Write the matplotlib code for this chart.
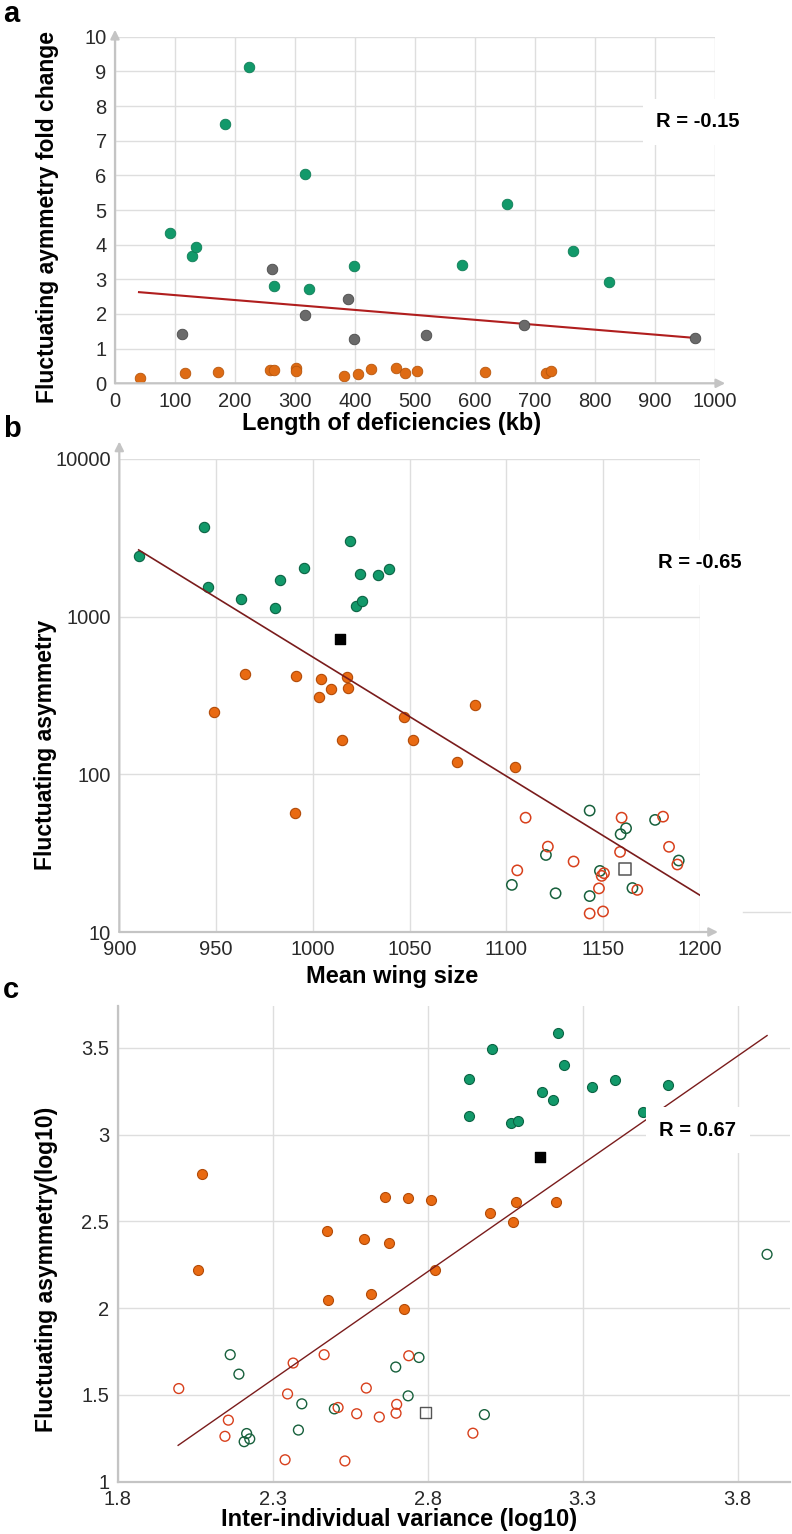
import numpy as np
import matplotlib
matplotlib.use('Agg')
import matplotlib.pyplot as plt
from matplotlib.lines import Line2D

plt.rcParams['font.family'] = ['Liberation Sans', 'DejaVu Sans']

# ---- panel a: deficiency length vs FA fold change
a_green_x = [92, 129, 135, 183, 224, 265, 317, 324, 398, 579, 653, 763, 824]
a_green_y = [4.33, 3.67, 3.92, 7.47, 9.14, 2.81, 6.04, 2.71, 3.38, 3.40, 5.18, 3.81, 2.92]
a_gray_x = [112, 262, 317, 388, 398, 518, 681, 966]
a_gray_y = [1.43, 3.29, 1.96, 2.44, 1.27, 1.39, 1.68, 1.31]
a_orange_x = [42, 116, 172, 258, 265, 301, 302, 381, 405, 426, 469, 484, 504, 617, 718, 726]
a_orange_y = [0.14, 0.29, 0.34, 0.39, 0.37, 0.43, 0.36, 0.22, 0.27, 0.42, 0.43, 0.31, 0.36, 0.33, 0.29, 0.36]
a_fit_x = [40, 966]
a_fit_y = [2.63, 1.31]

# ---- panel b: mean wing size vs FA (log)
b_green_x = [910, 943.7, 946, 962.8, 980.4, 983.1, 995.2, 1019, 1024.5, 1022.5, 1025.4, 1033.5, 1039.5]
b_green_y = [2440, 3720, 1540, 1300, 1130, 1710, 2030, 3030, 1870, 1170, 1260, 1840, 2000]
b_orange_x = [949, 964.9, 990.9, 991.3, 1003.3, 1004.2, 1009.4, 1014.9, 1017.6, 1018, 1046.9, 1051.9, 1074.3, 1083.6, 1104.3]
b_orange_y = [248, 431, 57, 423, 308, 401, 349, 164, 415, 353, 232, 164, 119, 277, 111]
b_hgreen_x = [1102.8, 1120.4, 1125.4, 1143, 1143, 1148.3, 1159, 1161.8, 1165.1, 1176.8, 1189]
b_hgreen_y = [19.9, 30.8, 17.6, 58.9, 16.9, 24.4, 41.7, 45.5, 19.0, 51.4, 28.4]
b_hred_x = [1105.6, 1109.9, 1121.4, 1134.7, 1143, 1147.8, 1149.2, 1149.9, 1150.4, 1158.7, 1159.5, 1167.6, 1180.9, 1184, 1188.3]
b_hred_y = [24.6, 53.1, 34.8, 28.0, 13.1, 18.9, 22.7, 13.5, 23.6, 32.2, 53.1, 18.5, 53.9, 34.7, 26.8]
b_black = (1013.8, 723)
b_hsquare = (1161.4, 25.1)
b_fit_x = [910, 1200]
b_fit_y = [2650, 17.1]

# ---- panel c: inter-individual variance vs FA (log10)
c_green_x = [2.932, 2.933, 3.008, 3.068, 3.090, 3.168, 3.205, 3.220, 3.239, 3.331, 3.403, 3.495, 3.577]
c_green_y = [3.317, 3.109, 3.491, 3.066, 3.076, 3.247, 3.198, 3.582, 3.403, 3.275, 3.314, 3.130, 3.283]
c_orange_x = [2.058, 2.073, 2.474, 2.479, 2.596, 2.616, 2.663, 2.675, 2.725, 2.737, 2.811, 2.824, 3.001, 3.074, 3.086, 3.213]
c_orange_y = [2.217, 2.770, 2.445, 2.048, 2.399, 2.082, 2.640, 2.373, 1.994, 2.635, 2.625, 2.222, 2.549, 2.495, 2.614, 2.614]
c_hgreen_x = [2.163, 2.191, 2.208, 2.216, 2.226, 2.383, 2.394, 2.499, 2.697, 2.737, 2.772, 2.983, 3.895]
c_hgreen_y = [1.732, 1.620, 1.231, 1.278, 1.247, 1.298, 1.449, 1.420, 1.661, 1.495, 1.716, 1.387, 2.310]
c_hred_x = [1.997, 2.146, 2.157, 2.340, 2.348, 2.366, 2.466, 2.511, 2.533, 2.571, 2.602, 2.644, 2.698, 2.700, 2.739, 2.946]
c_hred_y = [1.537, 1.262, 1.355, 1.127, 1.506, 1.684, 1.732, 1.428, 1.120, 1.392, 1.540, 1.373, 1.395, 1.446, 1.726, 1.280]
c_black = (3.163, 2.868)
c_hsquare = (2.792, 1.400)
c_fit_x = [1.995, 3.895]
c_fit_y = [1.21, 3.57]

GREEN = '#12996a'
GREEN_E = '#0b6444'
ORANGE = '#e96a12'
ORANGE_E = '#b24b08'
GRAY = '#6a6a6a'
HRED = '#d8401c'
HGREEN = '#17603c'
GRID = '#dedede'
AXC = '#c4c4c4'
TICKC = '#2a2a2a'

W, H = 792, 1534
fig = plt.figure(figsize=(W / 100, H / 100), dpi=100)


def rect(l, r, t, b):
    return [l / W, 1 - b / H, (r - l) / W, (b - t) / H]


def style(ax, arrows=True):
    ax.set_axisbelow(True)
    ax.grid(True, color=GRID, lw=1.0)
    ax.minorticks_off()
    ax.tick_params(length=0, labelsize=14.5, colors=TICKC, pad=6)
    for s in ['top', 'right']:
        ax.spines[s].set_visible(False)
    if arrows:
        ax.spines['left'].set_visible(False)
        ax.spines['bottom'].set_visible(False)
    else:
        ax.spines['left'].set_color(AXC)
        ax.spines['bottom'].set_color(AXC)
        ax.spines['left'].set_linewidth(1.6)
        ax.spines['bottom'].set_linewidth(1.6)


def add_arrows(ax, top, right):
    kw = dict(arrowstyle='-|>', color=AXC, lw=1.6, mutation_scale=13, shrinkA=0, shrinkB=0)
    ax.annotate('', xy=(0, top), xytext=(0, 0), xycoords='axes fraction',
                arrowprops=kw, annotation_clip=False)
    ax.annotate('', xy=(right, 0), xytext=(0, 0), xycoords='axes fraction',
                arrowprops=kw, annotation_clip=False)


def r_box(ax, x, y, txt):
    ax.text(x, y, txt, ha='center', va='center', fontsize=14.5, fontweight='bold',
            zorder=6, clip_on=False,
            bbox=dict(boxstyle='square,pad=0.65', fc='white', ec='none'))


# ================= panel a
ax1 = fig.add_axes(rect(115, 715, 36.7, 383.3))
style(ax1)
ax1.set_xlim(0, 1000)
ax1.set_ylim(0, 10)
ax1.set_xticks(np.arange(0, 1001, 100))
ax1.set_yticks(np.arange(0, 11, 1))
ax1.scatter(a_green_x, a_green_y, s=58, color=GREEN, edgecolors='#0e7d56', linewidths=0.6, zorder=3)
ax1.scatter(a_orange_x, a_orange_y, s=58, color='#de6b14', edgecolors='#b8560c', linewidths=0.6, zorder=3)
ax1.plot(a_fit_x, a_fit_y, color='#b01e1e', lw=1.5, zorder=4)
ax1.scatter(a_gray_x, a_gray_y, s=58, color=GRAY, edgecolors='#4a4a4a', linewidths=0.6, zorder=5)
add_arrows(ax1, 1.02, 1.017)
r_box(ax1, 972, 7.54, 'R = -0.15')

# ================= panel b
ax2 = fig.add_axes(rect(119.3, 700, 459, 932))
style(ax2)
ax2.set_yscale('log')
ax2.set_xlim(900, 1200)
ax2.set_ylim(10, 10000)
ax2.set_xticks(np.arange(900, 1201, 50))
ax2.set_yticks([10, 100, 1000, 10000])
ax2.set_yticklabels(['10', '100', '1000', '10000'])
ax2.minorticks_off()
ax2.scatter(b_green_x, b_green_y, s=55, color=GREEN, edgecolors=GREEN_E, linewidths=0.8, zorder=3)
ax2.scatter(b_orange_x, b_orange_y, s=55, color=ORANGE, edgecolors=ORANGE_E, linewidths=0.8, zorder=3)
ax2.scatter(b_hgreen_x, b_hgreen_y, s=55, facecolors='none', edgecolors=HGREEN, linewidths=1.1, zorder=3)
ax2.scatter(b_hred_x, b_hred_y, s=55, facecolors='none', edgecolors=HRED, linewidths=1.1, zorder=3)
ax2.scatter([b_black[0]], [b_black[1]], s=60, marker='s', color='black', zorder=3)
ax2.scatter([b_hsquare[0]], [b_hsquare[1]], s=70, marker='s', facecolors='none',
            edgecolors='#555555', linewidths=1.1, zorder=3)
ax2.plot(b_fit_x, b_fit_y, color='#7a1c1c', lw=1.2, zorder=4)
add_arrows(ax2, 1.037, 1.031)
r_box(ax2, 1200, 2200, 'R = -0.65')
fig.add_artist(Line2D([743 / W, 790 / W], [1 - 912 / H, 1 - 912 / H], color=GRID, lw=1))

# ================= panel c
ax3 = fig.add_axes(rect(117.7, 790, 1005.7, 1481.8))
style(ax3, arrows=False)
ax3.set_xlim(1.8, 3.969)
ax3.set_ylim(1, 3.742)
ax3.set_xticks([1.8, 2.3, 2.8, 3.3, 3.8])
ax3.set_xticklabels(['1.8', '2.3', '2.8', '3.3', '3.8'])
ax3.set_yticks([1, 1.5, 2, 2.5, 3, 3.5])
ax3.set_yticklabels(['1', '1.5', '2', '2.5', '3', '3.5'])
ax3.scatter(c_green_x, c_green_y, s=52, color=GREEN, edgecolors=GREEN_E, linewidths=0.8, zorder=3)
ax3.scatter(c_orange_x, c_orange_y, s=52, color=ORANGE, edgecolors=ORANGE_E, linewidths=0.8, zorder=3)
ax3.scatter(c_hgreen_x, c_hgreen_y, s=50, facecolors='none', edgecolors=HGREEN, linewidths=1.0, zorder=3)
ax3.scatter(c_hred_x, c_hred_y, s=50, facecolors='none', edgecolors=HRED, linewidths=1.0, zorder=3)
ax3.scatter([c_black[0]], [c_black[1]], s=55, marker='s', color='black', zorder=3)
ax3.scatter([c_hsquare[0]], [c_hsquare[1]], s=60, marker='s', facecolors='none',
            edgecolors='#555555', linewidths=1.0, zorder=3)
ax3.plot(c_fit_x, c_fit_y, color='#7a1c1c', lw=1.0, zorder=4)
r_box(ax3, 3.672, 3.026, 'R = 0.67')

# ================= labels
lab = dict(fontsize=17, fontweight='bold', color='black')
fig.text(392 / W, 1 - 430 / H, 'Length of deficiencies (kb)', ha='center', va='baseline', **lab)
fig.text(392 / W, 1 - 983 / H, 'Mean wing size', ha='center', va='baseline', **lab)
fig.text(399 / W, 1 - 1526 / H, 'Inter-individual variance (log10)', ha='center', va='baseline', **lab)

ylab = dict(fontsize=16.5, fontweight='bold', color='black', rotation=90, ha='center', va='center')
fig.text(48 / W, 1 - 217 / H, 'Fluctuating aymmetry fold change', **ylab)
fig.text(46 / W, 1 - 745 / H, 'Fluctuating asymmetry', **ylab)
fig.text(47 / W, 1 - 1269 / H, 'Fluctuating asymmetry(log10)', **ylab)

pl = dict(fontsize=21, fontweight='bold', ha='left', va='baseline')
fig.text(3 / W, 1 - 22 / H, 'a', **pl)
fig.text(3 / W, 1 - 437 / H, 'b', **pl)
fig.text(3 / W, 1 - 998 / H, 'c', **pl)

fig.savefig('out.png', dpi=100, facecolor='white')
